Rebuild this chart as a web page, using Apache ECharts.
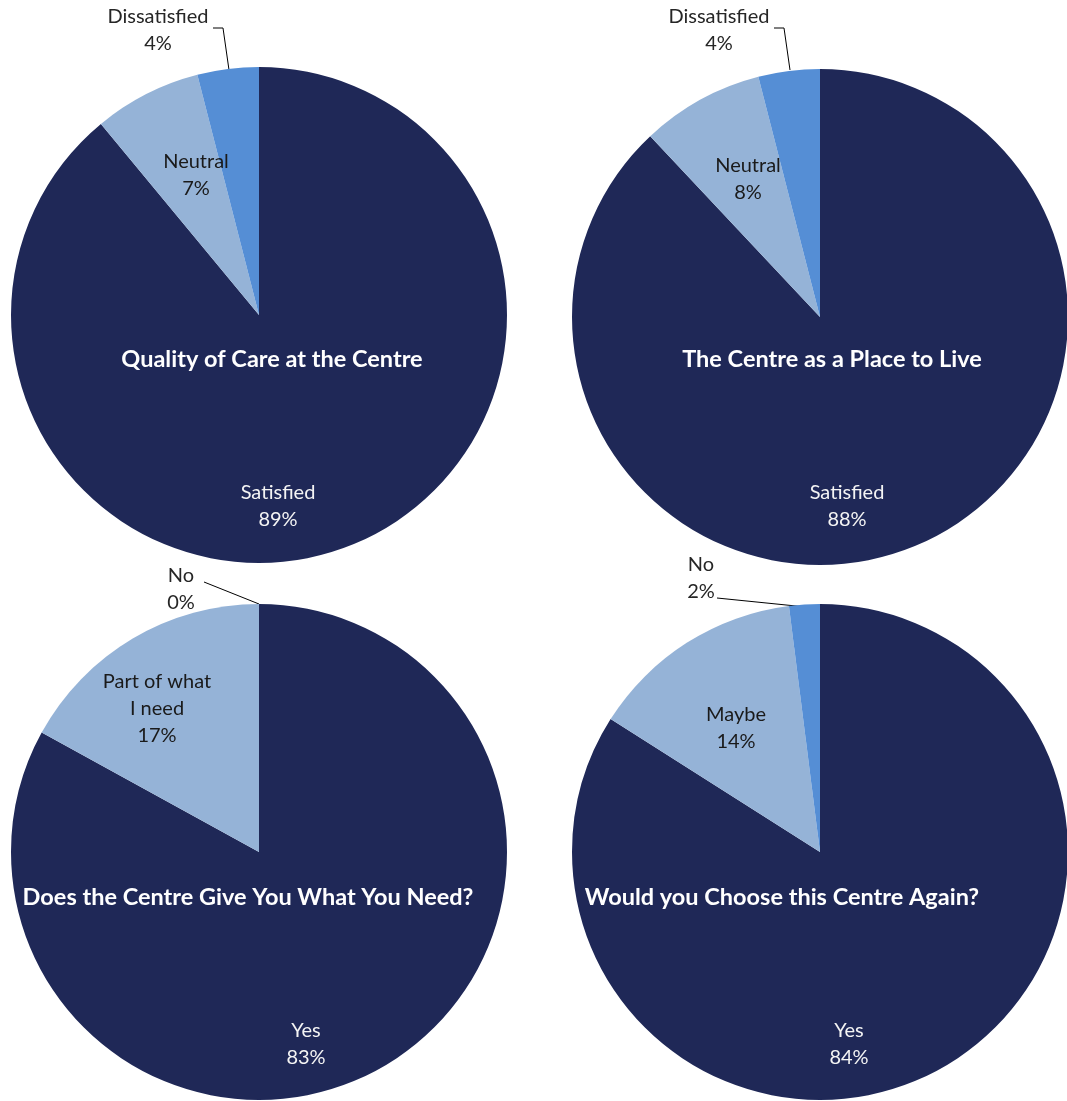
<!DOCTYPE html>
<html>
<head>
<meta charset="utf-8">
<script src="https://cdn.jsdelivr.net/npm/echarts@6/dist/echarts.min.js"></script>
<style>
  html, body { margin: 0; padding: 0; background: #ffffff; }
  #chart { width: 1067px; height: 1101px; }
</style>
</head>
<body>
<div id="chart"></div>
<script>
// Survey results: four questions, one pie each
const satisfactionCategories = ['Satisfied', 'Neutral', 'Dissatisfied'];
const careValues = [89, 7, 4];
const placeValues = [88, 8, 4];
const needCategories = ['Yes', 'Part of what\nI need', 'No'];
const needValues = [83, 17, 0];
const againCategories = ['Yes', 'Maybe', 'No'];
const againValues = [84, 14, 2];
const questionTitles = [
  'Quality of Care at the Centre',
  'The Centre as a Place to Live',
  'Does the Centre Give You What You Need?',
  'Would you Choose this Centre Again?'
];

const sliceColors = ['#1f2857', '#95b3d7', '#558ed5'];
const labelColors = ['#f4f4f4', '#1a1a1a', '#262626'];
const FONT = 'Lato, "Open Sans", sans-serif';
const RADIUS = 248;

// Placement of each pie, its label blocks, leader lines and question text
const layouts = [
  {
    center: [259, 315],
    labels: [[278, 506], [196, 175], [158, 30]],
    leader: [[213, 28], [223, 28], [229, 70]],
    title: [272, 359]
  },
  {
    center: [820, 317],
    labels: [[847, 506], [748, 179], [719, 30]],
    leader: [[774, 28], [784, 28], [790, 70]],
    title: [832, 359]
  },
  {
    center: [259, 852],
    labels: [[306, 1044], [157, 709], [181, 589]],
    leader: [[204, 582], [259, 604]],
    title: [248, 897]
  },
  {
    center: [820, 852],
    labels: [[849, 1044], [736, 728], [701, 578]],
    leader: [[717, 598], [806, 607]],
    title: [782, 897]
  }
];

const pieData = [
  [satisfactionCategories, careValues],
  [satisfactionCategories, placeValues],
  [needCategories, needValues],
  [againCategories, againValues]
];

function buildSeries(idx) {
  const [names, values] = pieData[idx];
  const lay = layouts[idx];
  return {
    type: 'pie',
    center: lay.center,
    radius: RADIUS,
    startAngle: 90,
    clockwise: true,
    silent: true,
    animation: false,
    itemStyle: { borderWidth: 0 },
    data: names.map((n, i) => ({
      name: n,
      value: values[i],
      itemStyle: { color: sliceColors[i] },
      label: {
        position: i === 2 ? 'outside' : 'inside',
        color: labelColors[i]
      },
      labelLine: { show: i === 2 }
    })),
    label: {
      show: true,
      formatter: '{b}\n{c}%',
      fontFamily: FONT,
      fontSize: 20,
      lineHeight: 27,
      align: 'center'
    },
    labelLine: {
      lineStyle: { color: '#000000', width: 1 },
      length: 10,
      length2: 10
    },
    labelLayout: function (p) {
      const pos = lay.labels[p.dataIndex];
      const res = { x: pos[0], y: pos[1], align: 'center', verticalAlign: 'middle' };
      if (p.dataIndex === 2) res.labelLinePoints = lay.leader;
      return res;
    }
  };
}

const chart = echarts.init(document.getElementById('chart'), null, { renderer: 'canvas' });
chart.setOption({
  backgroundColor: '#ffffff',
  animation: false,
  series: [0, 1, 2, 3].map(buildSeries),
  graphic: layouts.map((lay, i) => ({
    type: 'text',
    x: lay.title[0],
    y: lay.title[1],
    z: 100,
    silent: true,
    style: {
      text: questionTitles[i],
      fill: '#ffffff',
      font: 'bold 23.5px ' + FONT,
      align: 'center',
      verticalAlign: 'middle'
    }
  }))
});
</script>
</body>
</html>
